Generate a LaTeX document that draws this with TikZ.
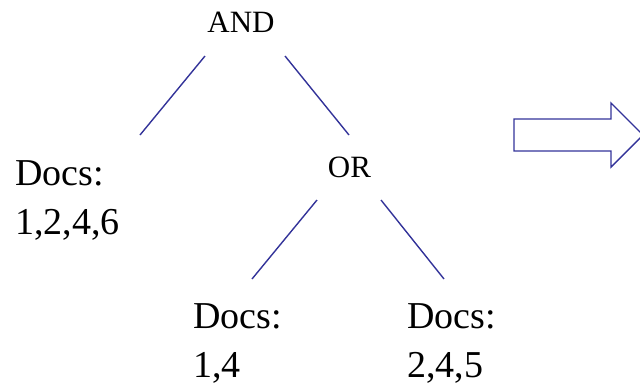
\documentclass[tikz,border=0pt]{standalone}
\usepackage{fontspec}
\setmainfont{Liberation Serif}
\begin{document}
\begin{tikzpicture}[x=1pt,y=-1pt,
  edge/.style={draw={rgb,255:red,51;green,51;blue,153},line width=1.4pt},
  opnode/.style={inner sep=0pt,anchor=base,font=\fontsize{31}{36}\selectfont},
  docnode/.style={inner sep=0pt,anchor=base west,align=left,font=\fontsize{38}{49}\selectfont},
  bigarrow/.style={draw={rgb,255:red,51;green,51;blue,153},line width=1.4pt,line join=miter}]
\useasboundingbox (0,0) rectangle (640,386);

% operator nodes
\node[opnode] (and) at (241,32) {AND};
\node[opnode] (or) at (349.5,177) {OR};

% posting lists (base anchor sits on the last line)
\node[docnode] (d1) at (15,234) {Docs:\\1,2,4,6};
\node[docnode] (d2) at (193,377) {Docs:\\1,4};
\node[docnode] (d3) at (407,377) {Docs:\\2,4,5};

% end points of the tree edges
\coordinate (and-l) at (205,56);
\coordinate (and-r) at (285,56);
\coordinate (d1-t) at (140,135);
\coordinate (or-t) at (349,135);
\coordinate (or-l) at (317,200);
\coordinate (or-r) at (381,200);
\coordinate (d2-t) at (252,279);
\coordinate (d3-t) at (444,279);

\draw[edge] (and-l) -- (d1-t);
\draw[edge] (and-r) -- (or-t);
\draw[edge] (or-l) -- (d2-t);
\draw[edge] (or-r) -- (d3-t);

% hollow block arrow
\draw[bigarrow] (514,119) -- (611,119) -- (611,103) -- (643,135)
  -- (611,167) -- (611,151) -- (514,151) -- cycle;
\end{tikzpicture}
\end{document}
